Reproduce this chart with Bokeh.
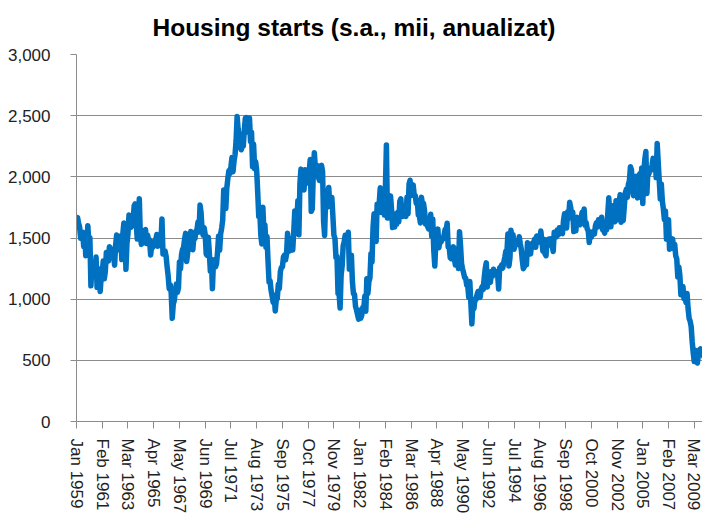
from bokeh.plotting import figure
from bokeh.models import FixedTicker, NumeralTickFormatter, Range1d, Title
from bokeh.embed import file_html
from bokeh.resources import INLINE

# Housing starts, thousands, SAAR, monthly from Jan 1959
starts_1959_1968 = [
    1657, 1667, 1620, 1590, 1498, 1503, 1547, 1430, 1540, 1355, 1416, 1601,
    1460, 1503, 1109, 1289, 1271, 1247, 1197, 1344, 1097, 1246, 1246, 1063,
    1183, 1226, 1312, 1166, 1228, 1382, 1335, 1312, 1429, 1415, 1385, 1365,
    1361, 1278, 1443, 1524, 1483, 1404, 1450, 1517, 1324, 1533, 1622, 1564,
    1244, 1456, 1534, 1689, 1641, 1588, 1614, 1639, 1763, 1779, 1622, 1491,
    1603, 1820, 1517, 1448, 1467, 1550, 1562, 1569, 1455, 1524, 1486, 1484,
    1361, 1433, 1423, 1438, 1478, 1488, 1529, 1432, 1482, 1452, 1460, 1656,
    1370, 1378, 1394, 1352, 1265, 1194, 1086, 1119, 1046, 843, 961, 990,
    1067, 1123, 1056, 1091, 1304, 1248, 1364, 1407, 1421, 1491, 1538, 1308,
    1380, 1520, 1466, 1554, 1408, 1405, 1512, 1495, 1556, 1569, 1630, 1548,
]
starts_1969_1978 = [
    1769, 1705, 1561, 1524, 1583, 1528, 1368, 1358, 1507, 1381, 1229, 1327,
    1085, 1305, 1319, 1264, 1290, 1385, 1517, 1399, 1534, 1580, 1647, 1893,
    1828, 1741, 1910, 1986, 2049, 2026, 2083, 2158, 2041, 2128, 2182, 2295,
    2494, 2390, 2334, 2249, 2221, 2254, 2252, 2382, 2481, 2485, 2421, 2366,
    2481, 2289, 2365, 2084, 2266, 2067, 2123, 2051, 1874, 1677, 1724, 1526,
    1451, 1752, 1555, 1607, 1426, 1513, 1316, 1142, 1150, 1070, 1026, 975,
    1032, 904, 993, 1005, 1121, 1087, 1226, 1260, 1264, 1344, 1360, 1321,
    1367, 1538, 1421, 1395, 1459, 1495, 1401, 1550, 1720, 1629, 1641, 1804,
    1527, 1943, 2063, 1892, 1971, 1893, 2058, 2020, 1949, 2042, 2042, 2142,
    1718, 1738, 2032, 2197, 2075, 2070, 2092, 1996, 1970, 1981, 2094, 2044,
]
starts_1979_1988 = [
    1630, 1520, 1847, 1748, 1876, 1913, 1760, 1778, 1832, 1681, 1524, 1498,
    1341, 1350, 1047, 1051, 927, 1196, 1269, 1436, 1471, 1523, 1510, 1482,
    1547, 1246, 1306, 1360, 1140, 1045, 1041, 940, 911, 873, 837, 910,
    843, 866, 931, 917, 1025, 902, 1166, 1046, 1144, 1173, 1372, 1303,
    1586, 1699, 1606, 1472, 1776, 1733, 1785, 1910, 1710, 1715, 1785, 1688,
    1897, 2260, 1663, 1851, 1774, 1843, 1732, 1586, 1698, 1590, 1689, 1612,
    1711, 1632, 1800, 1821, 1680, 1676, 1684, 1743, 1676, 1834, 1698, 1942,
    1972, 1848, 1876, 1933, 1854, 1847, 1782, 1807, 1687, 1681, 1623, 1833,
    1774, 1784, 1726, 1614, 1628, 1594, 1575, 1605, 1695, 1515, 1656, 1400,
    1271, 1473, 1532, 1573, 1421, 1478, 1467, 1493, 1492, 1522, 1569, 1563,
]
starts_1989_1998 = [
    1621, 1425, 1422, 1339, 1331, 1397, 1427, 1332, 1279, 1410, 1351, 1251,
    1551, 1437, 1289, 1248, 1212, 1177, 1171, 1115, 1110, 1014, 1145, 969,
    798, 965, 921, 1001, 996, 1036, 1063, 1049, 1015, 1079, 1103, 1079,
    1176, 1250, 1297, 1099, 1214, 1145, 1139, 1226, 1186, 1244, 1214, 1227,
    1210, 1210, 1083, 1258, 1260, 1280, 1254, 1300, 1343, 1392, 1376, 1533,
    1272, 1337, 1564, 1465, 1526, 1409, 1439, 1450, 1474, 1450, 1511, 1455,
    1407, 1316, 1249, 1267, 1314, 1281, 1461, 1416, 1369, 1369, 1452, 1431,
    1467, 1491, 1424, 1516, 1504, 1467, 1472, 1557, 1475, 1392, 1489, 1370,
    1355, 1486, 1457, 1492, 1442, 1494, 1437, 1390, 1546, 1520, 1510, 1566,
    1525, 1584, 1567, 1540, 1536, 1641, 1698, 1614, 1582, 1715, 1660, 1792,
]
starts_1999_2009 = [
    1748, 1670, 1710, 1553, 1611, 1559, 1669, 1648, 1635, 1608, 1648, 1708,
    1636, 1737, 1604, 1626, 1575, 1559, 1463, 1541, 1507, 1549, 1551, 1532,
    1600, 1625, 1590, 1649, 1605, 1636, 1670, 1567, 1562, 1540, 1602, 1568,
    1698, 1829, 1642, 1592, 1764, 1717, 1655, 1633, 1804, 1648, 1753, 1788,
    1853, 1629, 1726, 1643, 1751, 1867, 1897, 1833, 1939, 1967, 2083, 2057,
    1911, 1846, 1998, 2003, 1981, 1828, 2002, 2024, 1905, 2072, 1782, 2042,
    2144, 2207, 1864, 2061, 2025, 2068, 2054, 2095, 2151, 2065, 2147, 1994,
    2273, 2119, 1969, 1821, 1942, 1802, 1737, 1650, 1720, 1491, 1570, 1649,
    1409, 1480, 1495, 1490, 1415, 1448, 1354, 1330, 1183, 1264, 1197, 1037,
    1084, 1103, 1005, 1013, 973, 1046, 923, 844, 820, 777, 652, 560,
    490, 582, 505, 478, 540, 585, 594, 586, 585, 534, 588,
]

title_text = "Housing starts (s.a., mii, anualizat)"
tick_labels = [
    "Jan 1959", "Feb 1961", "Mar 1963", "Apr 1965", "May 1967", "Jun 1969",
    "Jul 1971", "Aug 1973", "Sep 1975", "Oct 1977", "Nov 1979", "Jan 1982",
    "Feb 1984", "Mar 1986", "Apr 1988", "May 1990", "Jun 1992", "Jul 1994",
    "Aug 1996", "Sep 1998", "Oct 2000", "Nov 2002", "Jan 2005", "Feb 2007",
    "Mar 2009",
]
label_step = 25
y_ticks = [0, 500, 1000, 1500, 2000, 2500, 3000]

values = (starts_1959_1968 + starts_1969_1978 + starts_1979_1988
          + starts_1989_1998 + starts_1999_2009)
xs = list(range(len(values)))
tick_pos = [i * label_step for i in range(len(tick_labels))]

p = figure(width=702, height=516, output_backend="svg", toolbar_location=None,
           x_range=Range1d(0, 608), y_range=Range1d(0, 3000),
           min_border_left=76, min_border_right=0, min_border_top=54,
           min_border_bottom=94)
p.title = Title(text=title_text, align="left", vertical_align="top",
                offset=76, standoff=23, text_font="Liberation Sans",
                text_font_size="24.5px", text_font_style="bold",
                text_color="#000000")
p.outline_line_color = None
p.background_fill_color = "white"
p.border_fill_color = "white"

p.line(xs, values, line_color="#0070C0", line_width=5.5,
       line_join="round", line_cap="round")

grid_color = "#8c8c8c"
p.xgrid.grid_line_color = None
p.ygrid.ticker = FixedTicker(ticks=y_ticks)
p.ygrid.grid_line_color = grid_color
p.ygrid.grid_line_width = 1

p.yaxis.ticker = FixedTicker(ticks=y_ticks)
p.yaxis.formatter = NumeralTickFormatter(format="0,0")
p.yaxis.major_tick_in = 0
p.yaxis.major_tick_out = 6
p.yaxis.minor_tick_line_color = None
p.yaxis.axis_line_color = grid_color
p.yaxis.major_tick_line_color = grid_color
p.yaxis.major_label_standoff = 20
p.yaxis.major_label_text_font = "Liberation Sans"
p.yaxis.major_label_text_font_size = "17px"
p.yaxis.major_label_text_color = "#222222"

p.xaxis.ticker = FixedTicker(ticks=tick_pos)
p.xaxis.major_label_overrides = {t: lab for t, lab in zip(tick_pos, tick_labels)}
p.xaxis.major_label_orientation = "vertical"
p.xaxis.major_tick_in = 0
p.xaxis.major_tick_out = 7
p.xaxis.minor_tick_line_color = None
p.xaxis.axis_line_color = grid_color
p.xaxis.major_tick_line_color = grid_color
p.xaxis.major_label_standoff = 10
p.xaxis.major_label_text_font = "Liberation Sans"
p.xaxis.major_label_text_font_size = "17px"
p.xaxis.major_label_text_color = "#222222"

open("out.html", "w").write(file_html(p, INLINE))
